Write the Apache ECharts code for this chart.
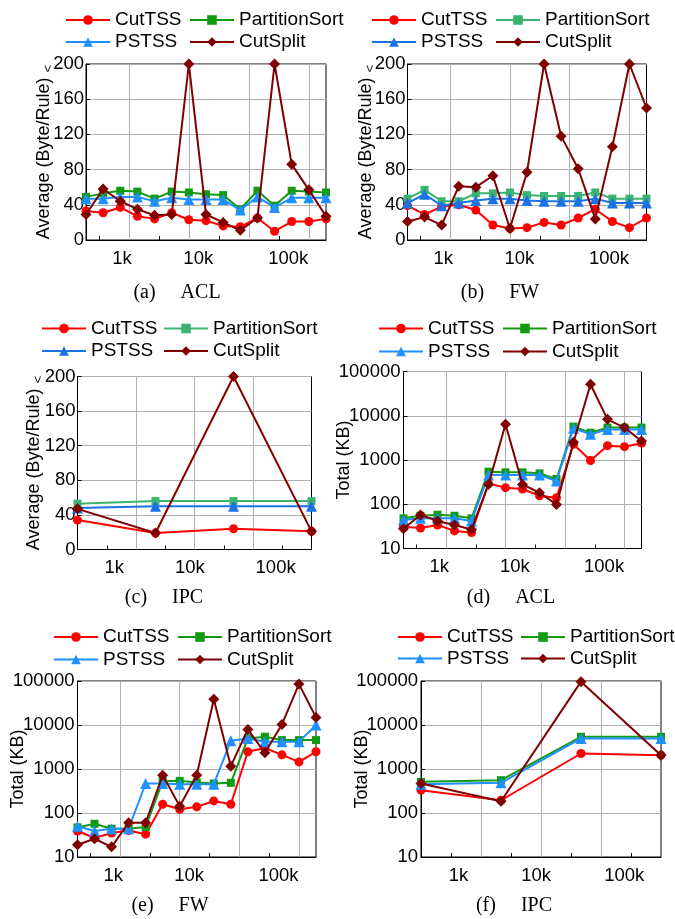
<!DOCTYPE html>
<html><head><meta charset="utf-8">
<script src="https://cdn.jsdelivr.net/npm/echarts@6/dist/echarts.min.js"></script>
<style>html,body{margin:0;padding:0;background:#fff}#c{width:675px;height:919px}</style>
</head><body><div id="c"></div>
<script>
// ---------- data ----------
const seriesNames = ['CutTSS', 'PartitionSort', 'PSTSS', 'CutSplit'];
const pos15 = [0, 1, 2, 3, 4, 5, 6, 7, 8, 9, 10, 11, 12, 13, 14];
const pos4 = [0, 1, 2, 3];
const xTickLabels = ['1k', '10k', '100k'];
const xLabelPos15 = [2.1, 6.55, 11.8];
const xLabelPos4 = [0.47, 1.44, 2.54];
const xGrid15 = [2.5, 6, 9.5, 13];
const xGrid4 = [0.75, 1.5, 2.25];
const xMinor15 = [0.75, 4.25, 7.75, 11.25];
const xMinor4 = [0.375, 1.125, 1.875, 2.625];
const avgYName = 'Average (Byte/Rule)';
const totalYName = 'Total (KB)';

const aclAvgCutTSS = [33, 31, 37, 27, 24, 31, 23, 22, 16, 15, 25, 10, 21, 21, 24];
const aclAvgPartitionSort = [49, 53, 56, 55, 47, 55, 54, 52, 51, 35, 56, 39, 56, 55, 54];
const aclAvgPSTSS = [47, 47, 49, 49, 44, 48, 46, 46, 46, 34, 49, 37, 48, 48, 48];
const aclAvgCutSplit = [29, 58, 44, 35, 28, 29, 200, 29, 20, 11, 25, 200, 86, 57, 27];

const fwAvgCutTSS = [39, 29, 38, 40, 34, 17, 13, 14, 20, 17, 25, 35, 21, 14, 25];
const fwAvgPartitionSort = [47, 57, 44, 44, 53, 53, 54, 51, 50, 50, 50, 54, 47, 47, 47];
const fwAvgPSTSS = [42, 52, 39, 42, 45, 47, 47, 45, 44, 44, 44, 47, 42, 42, 42];
const fwAvgCutSplit = [21, 26, 17, 61, 60, 73, 13, 77, 200, 118, 81, 24, 106, 200, 150];

const ipcAvgCutTSS = [34, 19, 24, 21];
const ipcAvgPartitionSort = [53, 56, 56, 56];
const ipcAvgPSTSS = [48, 50, 50, 50];
const ipcAvgCutSplit = [47, 19, 200, 21];

const aclTotalCutTSS = [31, 29, 34, 25, 23, 296, 237, 221, 156, 140, 2270, 970, 2110, 2000, 2400];
const aclTotalPartitionSort = [48, 55, 58, 55, 48, 545, 526, 526, 499, 372, 5690, 4160, 5400, 5400, 5400];
const aclTotalPSTSS = [44, 48, 48, 48, 42, 457, 457, 457, 457, 335, 5200, 3800, 4900, 4900, 4900];
const aclTotalCutSplit = [28, 57, 42, 34, 27, 281, 6430, 281, 182, 99, 2510, 51600, 8300, 5400, 2690];

const fwTotalCutTSS = [39, 27, 35, 40, 33, 158, 122, 138, 188, 158, 2460, 3000, 2100, 1450, 2460];
const fwTotalPartitionSort = [47, 57, 44, 44, 48, 528, 538, 493, 468, 485, 4940, 5400, 4540, 4540, 4540];
const fwTotalPSTSS = [50, 39, 44, 44, 468, 468, 452, 452, 452, 4380, 4940, 4150, 4150, 4150, 9950];
const fwTotalCutSplit = [19, 26, 17, 60, 60, 725, 142, 725, 38300, 1160, 7950, 2330, 10300, 85000, 14900];

const ipcTotalCutTSS = [330, 195, 2250, 2065];
const ipcTotalPartitionSort = [510, 557, 5400, 5400];
const ipcTotalPSTSS = [452, 485, 4940, 4940];
const ipcTotalCutSplit = [468, 185, 96600, 2065];

// ---------- styling / layout ----------
const FONT = "'Liberation Sans', Arial, sans-serif";
const SERIF = "'Liberation Serif', 'Times New Roman', serif";
const RED = '#ff0000', DKRED = '#800000';
const GREEN = '#129a12', SEAGREEN = '#3cb371';
const LBLUE = '#1e90ff', BLUE = '#1a72e6';
const symbols = ['circle', 'rect', 'triangle', 'diamond'];
const symbolSizes = [9, 8, 11, 11];

const panels = [
  { cap: '(a)', set: 'ACL', kind: 'avg', xs: pos15, vals: [aclAvgCutTSS, aclAvgPartitionSort, aclAvgPSTSS, aclAvgCutSplit],
    grid: { left: 86, top: 64, width: 240, height: 176 }, colors: [RED, GREEN, LBLUE, DKRED],
    leg: { top: 10.5, c1: 65, c2: 189, gap: 3 }, capPos: [177, 293], nameGap: 31 },
  { cap: '(b)', set: 'FW', kind: 'avg', xs: pos15, vals: [fwAvgCutTSS, fwAvgPartitionSort, fwAvgPSTSS, fwAvgCutSplit],
    grid: { left: 407.5, top: 64, width: 239, height: 176 }, colors: [RED, SEAGREEN, BLUE, DKRED],
    leg: { top: 10.5, c1: 371, c2: 495, gap: 3 }, capPos: [500, 293], nameGap: 31 },
  { cap: '(c)', set: 'IPC', kind: 'avg', xs: pos4, vals: [ipcAvgCutTSS, ipcAvgPartitionSort, ipcAvgPSTSS, ipcAvgCutSplit],
    grid: { left: 77.5, top: 376.5, width: 234, height: 173 }, colors: [RED, SEAGREEN, BLUE, DKRED],
    leg: { top: 319, c1: 41, c2: 163, gap: 3.5 }, capPos: [164, 598], nameGap: 33 },
  { cap: '(d)', set: 'ACL', kind: 'total', xs: pos15, vals: [aclTotalCutTSS, aclTotalPartitionSort, aclTotalPSTSS, aclTotalCutSplit],
    grid: { left: 403.5, top: 371.5, width: 238, height: 177 }, colors: [RED, GREEN, LBLUE, DKRED],
    leg: { top: 319, c1: 378, c2: 502, gap: 4 }, capPos: [511, 598], nameGap: 50 },
  { cap: '(e)', set: 'FW', kind: 'total', xs: pos15, vals: [fwTotalCutTSS, fwTotalPartitionSort, fwTotalPSTSS, fwTotalCutSplit],
    grid: { left: 77.5, top: 681, width: 238.5, height: 176 }, colors: [RED, GREEN, LBLUE, DKRED],
    leg: { top: 627.5, c1: 53, c2: 177, gap: 3.5 }, capPos: [170, 906], nameGap: 50 },
  { cap: '(f)', set: 'IPC', kind: 'total', xs: pos4, vals: [ipcTotalCutTSS, ipcTotalPartitionSort, ipcTotalPSTSS, ipcTotalCutSplit],
    grid: { left: 421, top: 681, width: 240, height: 176 }, colors: [RED, GREEN, LBLUE, DKRED],
    leg: { top: 627.5, c1: 397, c2: 520, gap: 2.5 }, capPos: [514, 906], nameGap: 50 }
];

const grids = [], xAxes = [], yAxes = [], series = [], legends = [], graphics = [];

function labelFormatter(posArr) {
  return function (v) {
    for (let i = 0; i < posArr.length; i++) if (Math.abs(posArr[i] - v) < 1e-6) return xTickLabels[i];
    return '';
  };
}

panels.forEach((p, gi) => {
  const is15 = p.xs.length === 15;
  const labelPos = is15 ? xLabelPos15 : xLabelPos4;
  const gridPos = is15 ? xGrid15 : xGrid4;
  const minorPos = is15 ? xMinor15 : xMinor4;
  grids.push(Object.assign({ show: true, borderColor: '#000', borderWidth: 1, containLabel: false, outerBoundsMode: 'none' }, p.grid));
  xAxes.push({
    type: 'value', gridIndex: gi, min: 0, max: p.xs.length - 1,
    axisLine: { show: true, onZero: false, lineStyle: { color: '#000', width: 1 } },
    axisTick: { show: true, inside: true, length: 4, customValues: gridPos.concat(minorPos), lineStyle: { color: '#000' } },
    axisLabel: { show: true, customValues: labelPos, formatter: labelFormatter(labelPos), fontSize: 18.5, fontFamily: FONT, color: '#000', margin: 9 },
    splitLine: { show: false }
  });
  const yCommon = {
    gridIndex: gi,
    axisLine: { show: true, lineStyle: { color: '#000' } },
    axisTick: { show: true, inside: true, length: 4, lineStyle: { color: '#000' } },
    splitLine: { show: true, lineStyle: { color: '#b0b0b0', width: 1 } },
    nameLocation: 'middle', nameGap: p.nameGap, nameMoveOverlap: false
  };
  if (p.kind === 'avg') {
    yAxes.push(Object.assign({
      type: 'value', min: 0, max: 200, interval: 40,
      axisLabel: { fontSize: 18.5, fontFamily: FONT, color: '#000', margin: 2 },
      name: avgYName + ' {s|<}',
      nameTextStyle: { fontSize: 18, fontFamily: FONT, color: '#000',
        rich: { s: { fontSize: 13, fontFamily: FONT, color: '#000', padding: [8, 0, 0, 0] } } }
    }, yCommon));
  } else {
    yAxes.push(Object.assign({
      type: 'log', logBase: 10, min: 10, max: 100000,
      axisLabel: { fontSize: 18.5, fontFamily: FONT, color: '#000', margin: 3, formatter: v => String(Math.round(v)) },
      name: totalYName,
      nameTextStyle: { fontSize: 18, fontFamily: FONT, color: '#000' }
    }, yCommon));
  }
  // vertical grid lines
  series.push({
    type: 'line', xAxisIndex: gi, yAxisIndex: gi, data: [], silent: true, z: 1,
    markLine: { silent: true, z: 1, symbol: 'none', animation: false, label: { show: false },
      lineStyle: { color: '#b0b0b0', width: 1, type: 'solid' },
      emphasis: { disabled: true },
      data: gridPos.map(v => ({ xAxis: v })) }
  });
  seriesNames.forEach((nm, si) => {
    series.push({
      type: 'line', name: nm, xAxisIndex: gi, yAxisIndex: gi, z: 2 + si,
      data: p.xs.map((x, k) => [x, p.vals[si][k]]),
      symbol: symbols[si], symbolSize: symbolSizes[si], showAllSymbol: true,
      lineStyle: { color: p.colors[si], width: 2 },
      itemStyle: { color: p.colors[si], borderWidth: 0 },
      animation: false, clip: true
    });
  });
  const legItem = si => ({ name: seriesNames[si], itemStyle: { color: p.colors[si] }, lineStyle: { color: p.colors[si], width: 2 } });
  const legCommon = { orient: 'vertical', top: p.leg.top, itemWidth: 44, itemHeight: 12, itemGap: p.leg.gap, padding: 0,
    textStyle: { fontSize: 19, fontFamily: FONT, color: '#000', padding: [0, 0, 0, 0] }, selectedMode: false };
  legends.push(Object.assign({ left: p.leg.c1, data: [legItem(0), legItem(2)] }, legCommon));
  legends.push(Object.assign({ left: p.leg.c2, data: [legItem(1), legItem(3)] }, legCommon));
  graphics.push({
    type: 'text', x: p.capPos[0], y: p.capPos[1],
    style: { text: p.cap + '\u2003 ' + p.set, fontSize: 20, fontFamily: SERIF, fill: '#000', textAlign: 'center', textVerticalAlign: 'middle' }
  });
});

const chart = echarts.init(document.getElementById('c'), null, { renderer: 'canvas' });
chart.setOption({
  animation: false,
  backgroundColor: '#fff',
  grid: grids, xAxis: xAxes, yAxis: yAxes, series: series, legend: legends, graphic: graphics
});
</script></body></html>
